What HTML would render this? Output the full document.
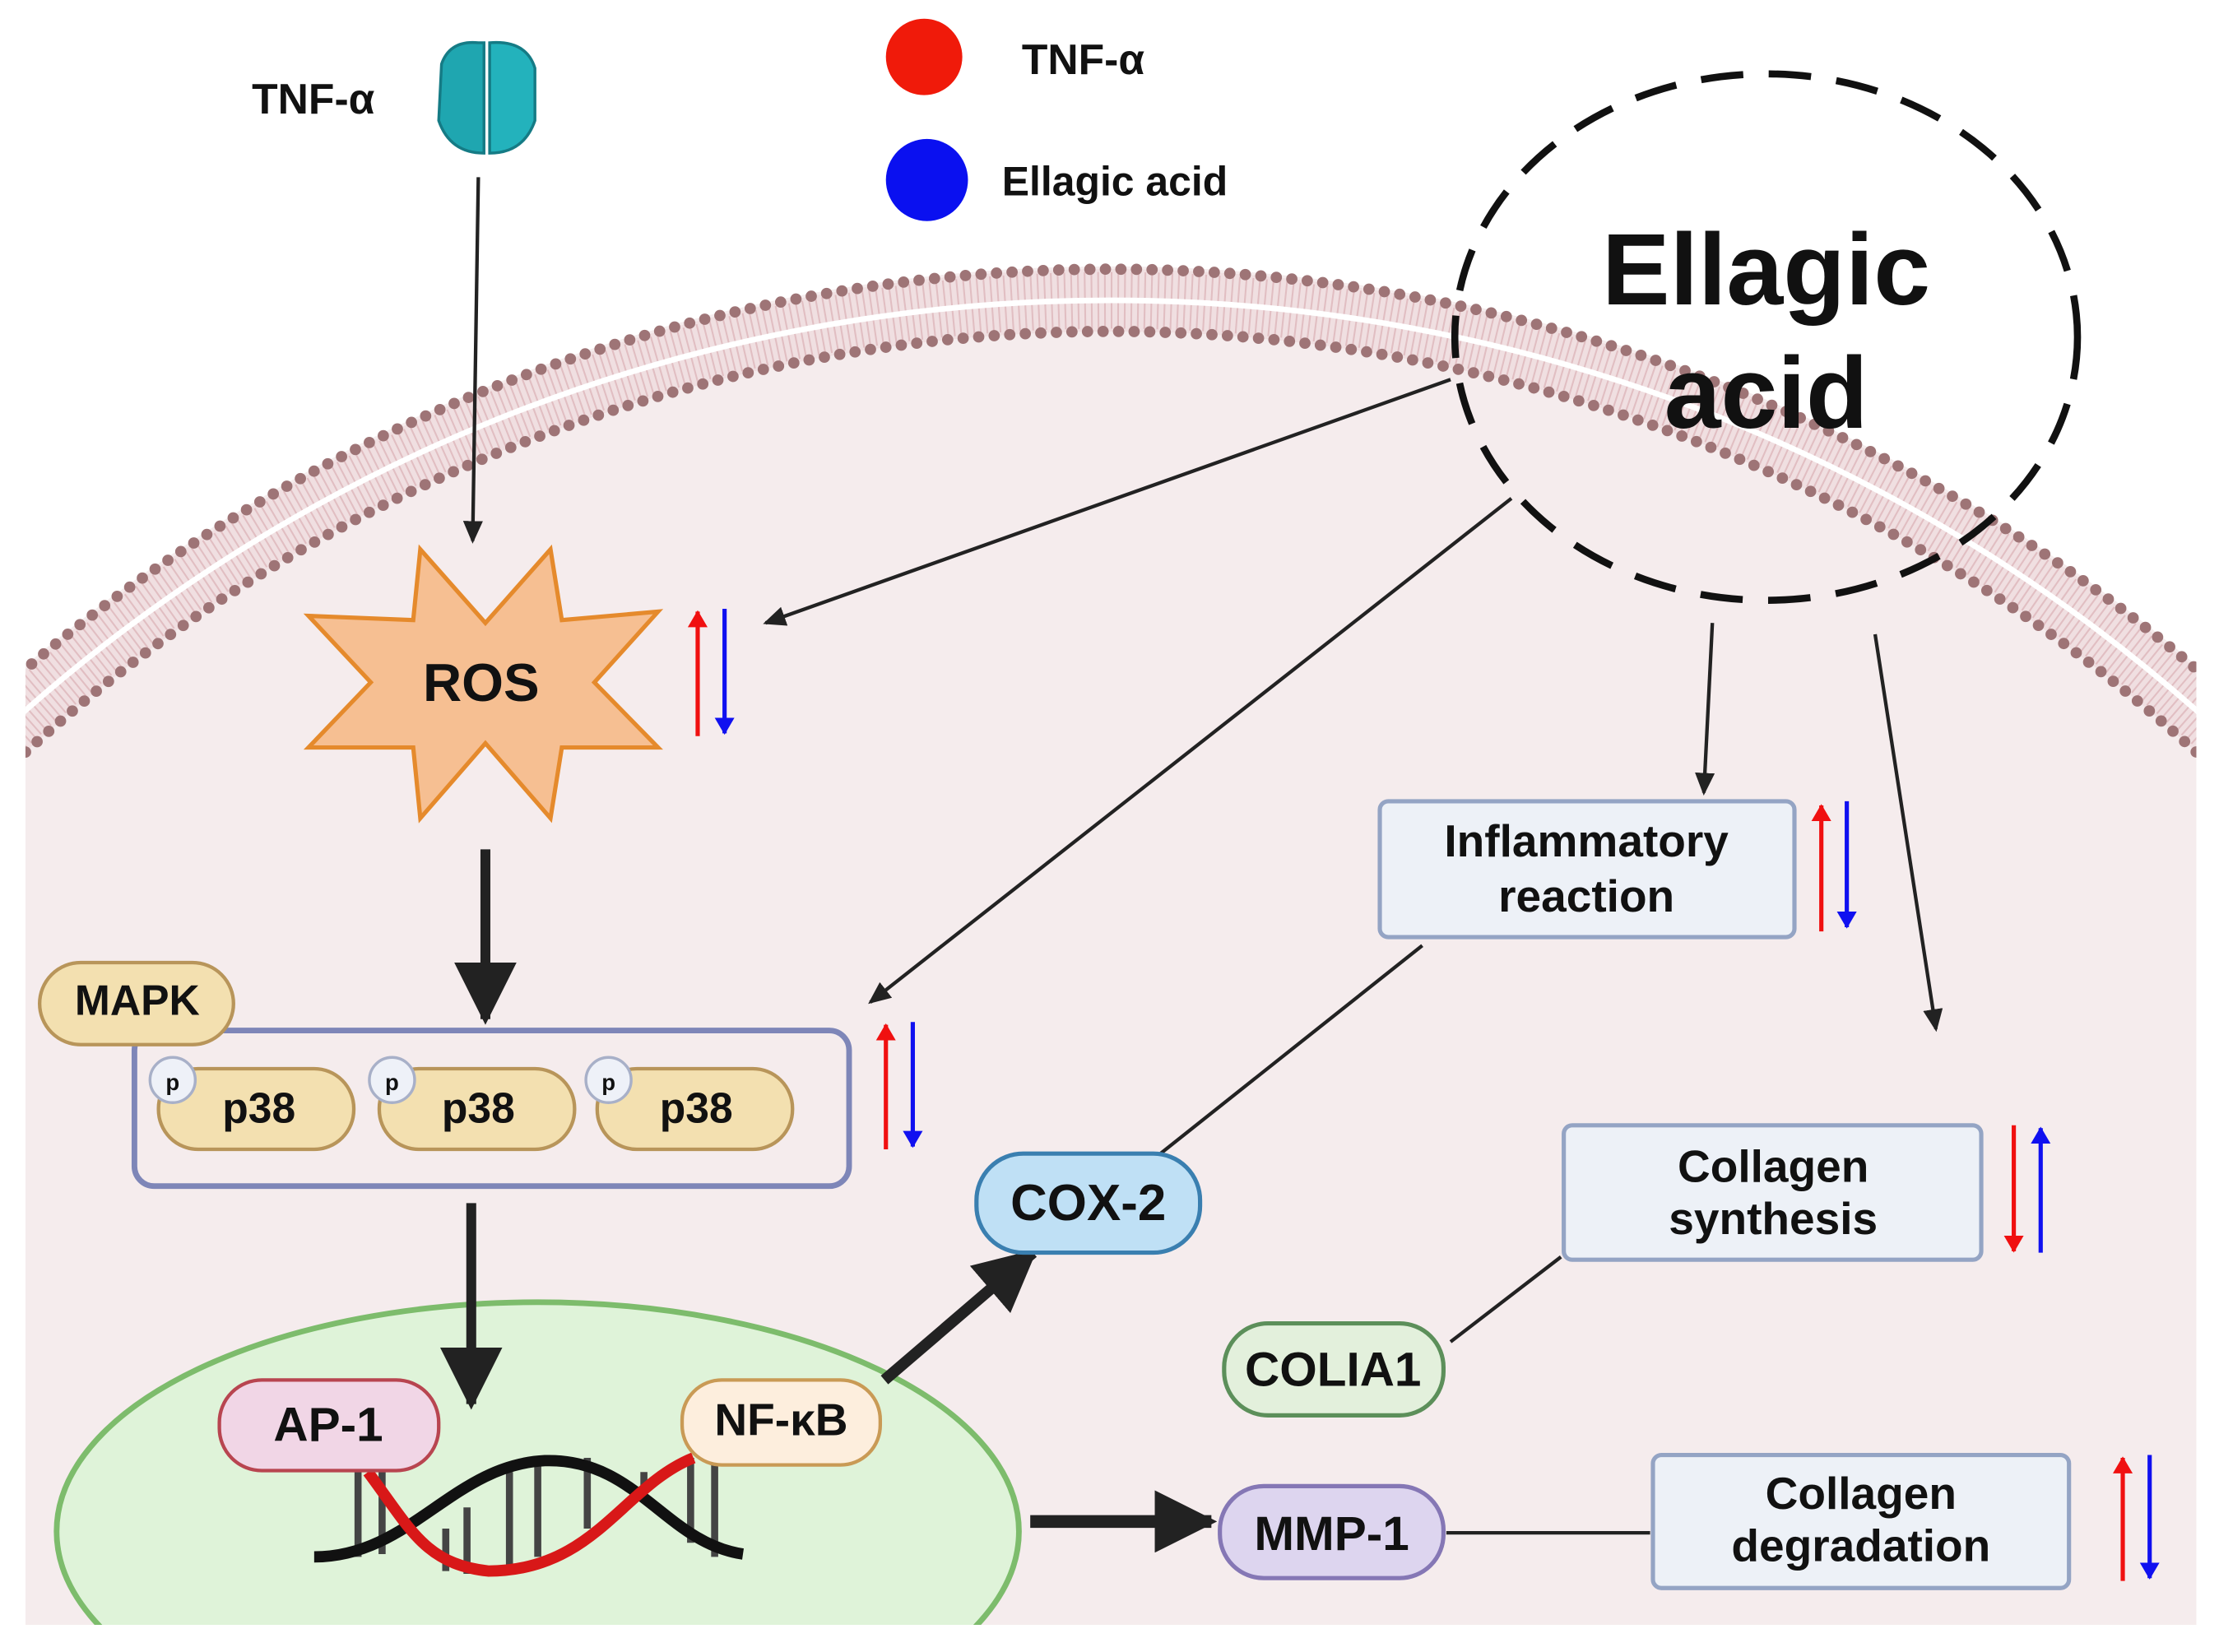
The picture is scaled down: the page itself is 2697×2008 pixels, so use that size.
<!DOCTYPE html>
<html><head><meta charset="utf-8"><style>
html,body{margin:0;padding:0;background:#fff;width:2697px;height:2008px;overflow:hidden;}
svg{display:block;}
text{font-family:"Liberation Sans",sans-serif;font-weight:bold;fill:#111;}
</style></head><body>
<svg width="2697" height="2008" viewBox="0 0 1568 1167" xmlns="http://www.w3.org/2000/svg">
<defs>
<clipPath id="cl"><rect x="18" y="0" width="1534" height="1148"/></clipPath>
<marker id="ahs" markerWidth="16" markerHeight="14" refX="14" refY="7" orient="auto" markerUnits="userSpaceOnUse"><path d="M0,0 L16,7 L0,14 Z" fill="#222"/></marker>
<marker id="ahb" markerWidth="44" markerHeight="44" refX="40" refY="22" orient="auto" markerUnits="userSpaceOnUse"><path d="M0,0 L44,22 L0,44 Z" fill="#222"/></marker>
<marker id="ar" markerWidth="12" markerHeight="14" refX="11" refY="7" orient="auto" markerUnits="userSpaceOnUse"><path d="M0,0 L12,7 L0,14 Z" fill="#f01010"/></marker>
<marker id="ab" markerWidth="12" markerHeight="14" refX="11" refY="7" orient="auto" markerUnits="userSpaceOnUse"><path d="M0,0 L12,7 L0,14 Z" fill="#1010f0"/></marker>
</defs>
<g clip-path="url(#cl)">
<circle cx="785" cy="1372" r="1184" fill="#f5eced"/>
<circle cx="785" cy="1372" r="1160" fill="none" stroke="#f0dfe1" stroke-width="44"/>
<circle cx="785" cy="1372" r="1160" fill="none" stroke="#d7a9ad" stroke-width="40" stroke-dasharray="1.2 3.5" opacity="0.6"/>
<circle cx="785" cy="1372" r="1160" fill="none" stroke="#fff" stroke-width="4"/>
<circle cx="785" cy="1372" r="1182" fill="none" stroke="#9e7476" stroke-width="8" stroke-dasharray="0 11" stroke-linecap="round"/>
<circle cx="785" cy="1372" r="1138" fill="none" stroke="#9e7476" stroke-width="8" stroke-dasharray="0 11" stroke-linecap="round"/>
<ellipse cx="380" cy="1082" rx="340" ry="162" fill="#dff3d9" stroke="#7dbc6c" stroke-width="4"/>
</g>
<circle cx="653" cy="40" r="27" fill="#f01a0a"/>
<text x="722" y="52" font-size="30">TNF-α</text>
<circle cx="655" cy="127" r="29" fill="#0a10f0"/>
<text x="708" y="138" font-size="29">Ellagic acid</text>
<text x="178" y="80" font-size="30">TNF-α</text>
<path d="M312,45 Q318,28 338,30 L342,30 L342,108 Q318,108 310,85 Z" fill="#1fa6b0" stroke="#157b85" stroke-width="2"/>
<path d="M346,30 Q372,28 378,48 L378,85 Q370,108 346,108 Z" fill="#23b2bc" stroke="#157b85" stroke-width="2"/>
<line x1="338" y1="125" x2="334" y2="382" stroke="#222" stroke-width="2.5" marker-end="url(#ahs)"/>
<ellipse cx="1248" cy="238" rx="220" ry="186" fill="none" stroke="#111" stroke-width="5" stroke-dasharray="30 18"/>
<text x="1248" y="215" font-size="72" text-anchor="middle">Ellagic</text>
<text x="1248" y="302" font-size="72" text-anchor="middle">acid</text>
<line x1="1025" y1="268" x2="541" y2="440" stroke="#222" stroke-width="2.5" marker-end="url(#ahs)"/>
<line x1="1068" y1="352" x2="615" y2="708" stroke="#222" stroke-width="2.5" marker-end="url(#ahs)"/>
<line x1="1210" y1="440" x2="1204" y2="560" stroke="#222" stroke-width="2.5" marker-end="url(#ahs)"/>
<line x1="1325" y1="448" x2="1368" y2="727" stroke="#222" stroke-width="2.5" marker-end="url(#ahs)"/>
<polygon points="297,388 343,440 389,388 397,438 465,432 420,482 465,528 397,528 389,578 343,525 297,578 292,528 218,528 262,482 218,435 292,438" fill="#f6bf92" stroke="#e58a2c" stroke-width="3"/>
<text x="340" y="495" font-size="38" text-anchor="middle">ROS</text>
<line x1="493" y1="520" x2="493" y2="432" stroke="#f01010" stroke-width="3" marker-end="url(#ar)"/>
<line x1="512" y1="430" x2="512" y2="518" stroke="#1010f0" stroke-width="3" marker-end="url(#ab)"/>
<line x1="343" y1="600" x2="343" y2="720" stroke="#222" stroke-width="7" marker-end="url(#ahb)"/>
<line x1="333" y1="850" x2="333" y2="992" stroke="#222" stroke-width="7" marker-end="url(#ahb)"/>
<line x1="625" y1="975" x2="730" y2="885" stroke="#222" stroke-width="8" marker-end="url(#ahb)"/>
<line x1="728" y1="1075" x2="856" y2="1075" stroke="#222" stroke-width="9" marker-end="url(#ahb)"/>
<rect x="95" y="728" width="505" height="110" rx="14" fill="none" stroke="#7e86b8" stroke-width="4"/>
<rect x="28" y="680" width="137" height="58" rx="29" fill="#f3e0b0" stroke="#b8955a" stroke-width="2.5"/>
<text x="97" y="717" font-size="30" text-anchor="middle">MAPK</text>
<rect x="112" y="755" width="138" height="57" rx="28" fill="#f3e0b0" stroke="#b8955a" stroke-width="2.5"/>
<text x="183" y="793" font-size="30" text-anchor="middle">p38</text>
<rect x="268" y="755" width="138" height="57" rx="28" fill="#f3e0b0" stroke="#b8955a" stroke-width="2.5"/>
<text x="338" y="793" font-size="30" text-anchor="middle">p38</text>
<rect x="422" y="755" width="138" height="57" rx="28" fill="#f3e0b0" stroke="#b8955a" stroke-width="2.5"/>
<text x="492" y="793" font-size="30" text-anchor="middle">p38</text>
<circle cx="122" cy="763" r="16" fill="#eef1f8" stroke="#a8b0c8" stroke-width="2"/><text x="122" y="770" font-size="16" text-anchor="middle" font-weight="normal">p</text>
<circle cx="277" cy="763" r="16" fill="#eef1f8" stroke="#a8b0c8" stroke-width="2"/><text x="277" y="770" font-size="16" text-anchor="middle" font-weight="normal">p</text>
<circle cx="430" cy="763" r="16" fill="#eef1f8" stroke="#a8b0c8" stroke-width="2"/><text x="430" y="770" font-size="16" text-anchor="middle" font-weight="normal">p</text>
<line x1="626" y1="812" x2="626" y2="724" stroke="#f01010" stroke-width="3" marker-end="url(#ar)"/>
<line x1="645" y1="722" x2="645" y2="810" stroke="#1010f0" stroke-width="3" marker-end="url(#ab)"/>
<g stroke="#444" stroke-width="5">
<line x1="253" y1="1040" x2="253" y2="1100"/><line x1="270" y1="1040" x2="270" y2="1098"/>
<line x1="315" y1="1080" x2="315" y2="1110"/><line x1="330" y1="1065" x2="330" y2="1112"/>
<line x1="360" y1="1040" x2="360" y2="1108"/><line x1="380" y1="1032" x2="380" y2="1100"/>
<line x1="415" y1="1030" x2="415" y2="1080"/><line x1="455" y1="1040" x2="455" y2="1060"/>
<line x1="488" y1="1030" x2="488" y2="1090"/><line x1="505" y1="1030" x2="505" y2="1100"/>
</g>
<path d="M222,1100 C290,1100 320,1035 385,1032 C450,1030 470,1090 525,1098" fill="none" stroke="#111" stroke-width="8"/>
<path d="M260,1040 C290,1080 300,1105 345,1110 C420,1110 440,1050 490,1030" fill="none" stroke="#d81818" stroke-width="8"/>
<rect x="155" y="975" width="155" height="64" rx="30" fill="#f1d6e6" stroke="#b84550" stroke-width="2.5"/>
<text x="232" y="1018" font-size="34" text-anchor="middle">AP-1</text>
<rect x="482" y="975" width="140" height="60" rx="28" fill="#fdeedd" stroke="#c99a55" stroke-width="2.5"/>
<text x="552" y="1014" font-size="32" text-anchor="middle">NF-κB</text>
<rect x="975" y="566" width="293" height="96" rx="6" fill="#edf1f7" stroke="#94a4c4" stroke-width="3"/>
<text x="1121" y="605" font-size="32" text-anchor="middle">Inflammatory</text>
<text x="1121" y="644" font-size="32" text-anchor="middle">reaction</text>
<line x1="1287" y1="658" x2="1287" y2="569" stroke="#f01010" stroke-width="3" marker-end="url(#ar)"/>
<line x1="1305" y1="566" x2="1305" y2="655" stroke="#1010f0" stroke-width="3" marker-end="url(#ab)"/>
<line x1="820" y1="815" x2="1005" y2="668" stroke="#222" stroke-width="2.5"/>
<rect x="690" y="815" width="158" height="70" rx="33" fill="#bfe0f5" stroke="#3a7fb0" stroke-width="3"/>
<text x="769" y="862" font-size="36" text-anchor="middle">COX-2</text>
<rect x="1105" y="795" width="295" height="95" rx="6" fill="#edf1f7" stroke="#94a4c4" stroke-width="3"/>
<text x="1253" y="835" font-size="32" text-anchor="middle">Collagen</text>
<text x="1253" y="872" font-size="32" text-anchor="middle">synthesis</text>
<line x1="1423" y1="795" x2="1423" y2="884" stroke="#f01010" stroke-width="3" marker-end="url(#ar)"/>
<line x1="1442" y1="885" x2="1442" y2="797" stroke="#1010f0" stroke-width="3" marker-end="url(#ab)"/>
<line x1="1025" y1="948" x2="1103" y2="888" stroke="#222" stroke-width="2.5"/>
<rect x="865" y="935" width="155" height="65" rx="31" fill="#e3f0dc" stroke="#5c8f5a" stroke-width="3"/>
<text x="942" y="979" font-size="34" text-anchor="middle">COLIA1</text>
<line x1="1022" y1="1083" x2="1166" y2="1083" stroke="#222" stroke-width="2.5"/>
<rect x="862" y="1050" width="158" height="65" rx="31" fill="#ddd5ef" stroke="#8577b5" stroke-width="3"/>
<text x="941" y="1095" font-size="34" text-anchor="middle">MMP-1</text>
<rect x="1168" y="1028" width="294" height="94" rx="6" fill="#edf1f7" stroke="#94a4c4" stroke-width="3"/>
<text x="1315" y="1066" font-size="32" text-anchor="middle">Collagen</text>
<text x="1315" y="1103" font-size="32" text-anchor="middle">degradation</text>
<line x1="1500" y1="1117" x2="1500" y2="1030" stroke="#f01010" stroke-width="3" marker-end="url(#ar)"/>
<line x1="1519" y1="1028" x2="1519" y2="1115" stroke="#1010f0" stroke-width="3" marker-end="url(#ab)"/>
</svg>
</body></html>
